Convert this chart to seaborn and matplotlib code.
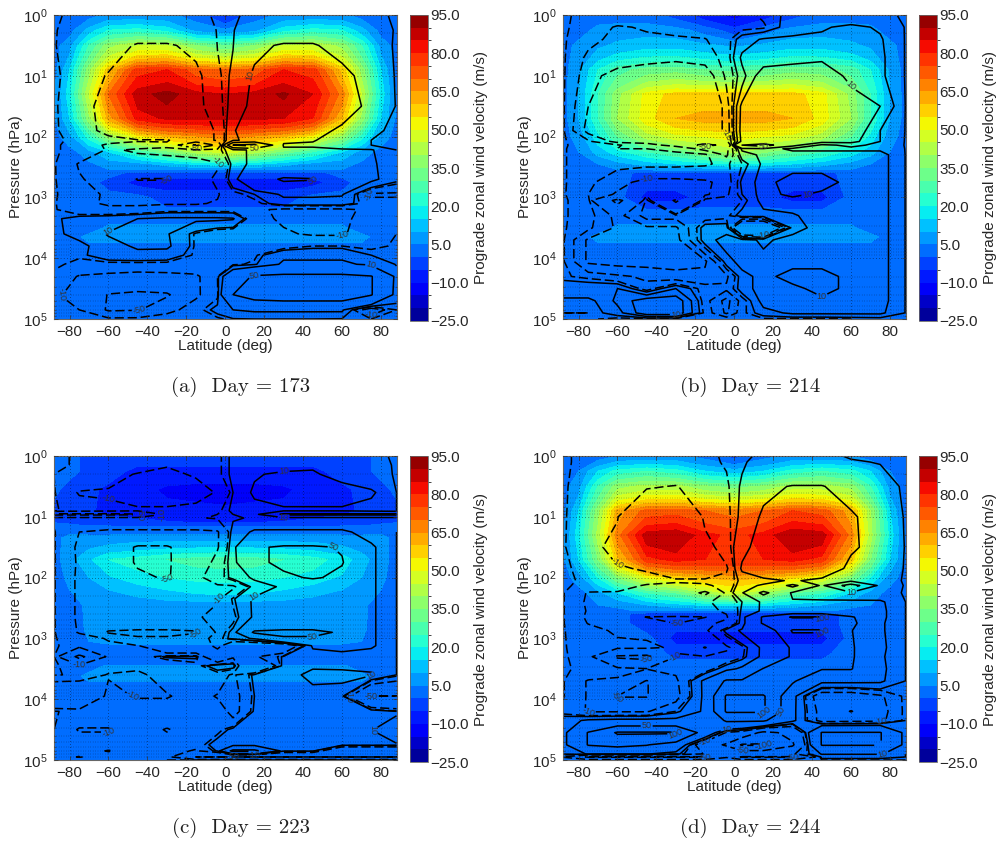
import numpy as np
import matplotlib
matplotlib.use("Agg")
import matplotlib.pyplot as plt
from matplotlib.colors import ListedColormap, BoundaryNorm
from matplotlib.ticker import LogLocator, NullFormatter, FuncFormatter
import seaborn as sns

# zonal wind, m/s
LAT_U = [-88, -80, -70, -60, -45, -30, -15, 0, 15, 30, 45, 60, 70, 80, 88]
LOGP_U = [0, .25, .5, .9, 1.3, 1.7, 2.0, 2.25, 2.45, 2.54, 2.6, 2.75, 3.0, 3.25, 3.5, 3.65, 3.85, 4.1, 5]
LOGP_UC = [0, .25, .55, .9, 1.05, 1.18, 1.35, 1.7, 2.0, 2.2, 2.45, 2.85, 3.05, 3.2, 3.4, 3.45, 3.62, 3.82, 5]

U_A = [
    [2, 2, 3, 6, 6, 6, 3, -7, 3, 6, 6, 6, 3, 2, 2],
    [2, 3, 12, 20, 22, 18, 8, 6, 8, 18, 22, 20, 12, 3, 2],
    [3, 8, 25, 38, 45, 45, 35, 30, 35, 45, 45, 38, 25, 8, 3],
    [3, 15, 38, 58, 78, 80, 72, 70, 72, 80, 78, 58, 38, 15, 3],
    [4, 18, 45, 70, 88, 92, 87, 85, 87, 91, 85, 68, 45, 18, 4],
    [4, 15, 38, 62, 82, 86, 86, 86, 86, 85, 80, 60, 38, 15, 4],
    [3, 8, 22, 38, 52, 60, 64, 68, 64, 60, 52, 38, 22, 8, 3],
    [2, 3, 8, 15, 25, 33, 42, 48, 42, 33, 25, 15, 8, 3, 2],
    [2, 2, 4, 7, 8, 12, 16, 18, 16, 12, 8, 7, 4, 2, 2],
    [2, 2, 2, 5, 6, 6, 6, 6, 6, 6, 6, 5, 2, 2, 2],
    [2, 2, 2, 2, -2, -2, -2, -2, -2, -2, -2, 2, 2, 2, 2],
    [2, 2, 2, -2, -7, -7, -7, -7, -7, -7, -7, -2, 2, 2, 2],
    [2, 2, 2, 2, 2, -3, -3, -3, -3, -3, 2, 2, 2, 2, 2],
    [2, 2, 2, 2, 2, 2, 2, 2, 2, 2, 2, 2, 2, 2, 2],
    [2, 2, 2, 6, 6, 6, 6, 6, 6, 6, 6, 6, 2, 2, 2],
    [2, 2, 7, 7, 7, 7, 7, 7, 7, 7, 7, 7, 7, 2, 2],
    [2, 2, 2, 2, 2, 2, 2, 2, 2, 2, 2, 2, 2, 2, 2],
    [2, 2, 2, 2, 2, 2, 2, 2, 2, 2, 2, 2, 2, 2, 2],
    [2, 2, 2, 2, 2, 2, 2, 2, 2, 2, 2, 2, 2, 2, 2],
]
U_B = [
    [2, 2, 2, 2, 2, -2, -8, -12, -8, -2, 2, 2, 2, 2, 2],
    [2, 2, 7, 8, 8, 7, 3, -3, 3, 7, 8, 8, 7, 2, 2],
    [2, 7, 9, 11, 13, 13, 11, 9, 11, 13, 13, 11, 9, 7, 2],
    [3, 9, 20, 28, 32, 33, 30, 28, 30, 33, 32, 28, 20, 9, 3],
    [3, 10, 25, 38, 52, 57, 57, 57, 57, 57, 52, 38, 25, 10, 3],
    [3, 10, 25, 40, 53, 60, 62, 62, 62, 60, 53, 40, 25, 10, 3],
    [3, 7, 18, 30, 42, 48, 50, 52, 50, 48, 42, 30, 18, 7, 3],
    [2, 5, 12, 18, 25, 30, 36, 42, 36, 30, 25, 18, 12, 5, 2],
    [2, 2, 5, 8, 12, 15, 18, 20, 18, 15, 12, 8, 5, 2, 2],
    [2, 2, 2, 5, 6, 7, 7, 7, 7, 7, 6, 5, 2, 2, 2],
    [2, 2, 2, 2, -2, -2, -2, -2, -2, -2, -2, 2, 2, 2, 2],
    [2, 2, 2, 2, -3, -3, -3, -3, -3, -3, -3, 2, 2, 2, 2],
    [2, 2, 2, 2, -7, -7, -3, -3, -3, -7, -7, 2, 2, 2, 2],
    [2, 2, 2, 2, 2, 2, 2, 2, 2, 2, 2, 2, 2, 2, 2],
    [2, 2, 2, 6, 6, 6, 6, 6, 6, 6, 6, 6, 2, 2, 2],
    [2, 2, 7, 7, 7, 7, 7, 7, 7, 7, 7, 7, 7, 2, 2],
    [2, 2, 2, 2, 2, 2, 2, 2, 2, 2, 2, 2, 2, 2, 2],
    [2, 2, 2, 2, 2, 2, 2, 2, 2, 2, 2, 2, 2, 2, 2],
    [2, 2, 2, 2, 2, 2, 2, 2, 2, 2, 2, 2, 2, 2, 2],
]
U_C = [
    [2, 2, -2, -2, -2, -2, -2, -2, -2, -2, -2, -2, -2, 2, 2],
    [2, 2, -2, -2, -7, -7, -7, -7, -7, -7, -7, -2, -2, 2, 2],
    [2, -3, -3, -7, -8, -11, -12, -12, -12, -11, -8, -7, -3, -3, 2],
    [-3, -3, -4, -7, -8, -8, -8, -9, -8, -8, -8, -7, -4, -3, -3],
    [-1, -2, -3, -3, -4, -6, -8, -8, -8, -6, -4, -3, -3, -2, -1],
    [2, 2, 1, 1, 1, 1, 1, 1, 1, 1, 1, 1, 1, 2, 2],
    [3, 7, 7, 7, 8, 8, 8, 8, 8, 8, 8, 7, 7, 7, 3],
    [3, 8, 14, 20, 22, 25, 27, 28, 27, 25, 22, 18, 12, 7, 3],
    [3, 6, 10, 14, 18, 20, 21, 21, 21, 20, 18, 14, 10, 6, 3],
    [2, 5, 7, 10, 12, 15, 17, 18, 17, 15, 12, 10, 7, 5, 2],
    [2, 3, 6, 6, 7, 7, 7, 7, 7, 7, 7, 6, 6, 3, 2],
    [2, 2, 6, 7, 7, 7, 7, 7, 7, 7, 7, 7, 6, 2, 2],
    [2, 2, 5, 6, 6, 6, 6, 6, 6, 6, 6, 6, 5, 2, 2],
    [2, 2, 2, 2, 2, 2, 2, 2, 2, 2, 2, 2, 2, 2, 2],
    [2, 2, 2, 2, 2, 2, 2, 2, 2, 2, 2, 2, 2, 2, 2],
    [2, 2, 2, 6, 6, 6, 6, 6, 6, 6, 6, 6, 2, 2, 2],
    [2, 2, 7, 7, 7, 7, 7, 7, 7, 7, 7, 7, 7, 2, 2],
    [2, 2, 2, 2, 2, 2, 2, 2, 2, 2, 2, 2, 2, 2, 2],
    [2, 2, 2, 2, 2, 2, 2, 2, 2, 2, 2, 2, 2, 2, 2],
]
U_D = [
    [2, 2, 2, 5, 6, 6, 3, -2, 3, 6, 6, 5, 2, 2, 2],
    [2, 5, 15, 22, 25, 22, 15, 12, 15, 22, 25, 22, 15, 5, 2],
    [3, 8, 25, 38, 42, 42, 36, 33, 36, 42, 42, 38, 25, 8, 3],
    [3, 15, 38, 62, 72, 73, 70, 68, 70, 75, 73, 62, 40, 15, 3],
    [4, 18, 42, 68, 88, 90, 82, 78, 82, 90, 88, 68, 42, 18, 4],
    [4, 15, 35, 58, 78, 82, 80, 80, 80, 82, 78, 58, 35, 15, 4],
    [3, 7, 20, 35, 50, 56, 60, 62, 60, 56, 50, 35, 20, 7, 3],
    [2, 3, 8, 15, 25, 30, 40, 48, 40, 30, 25, 15, 8, 3, 2],
    [2, 2, 5, 6, 10, 13, 16, 16, 16, 13, 10, 6, 5, 2, 2],
    [2, 2, 3, 4, 6, 6, 6, 6, 6, 6, 6, 4, 3, 2, 2],
    [2, 2, 2, 2, -3, -3, -3, -3, -3, -3, -3, 2, 2, 2, 2],
    [2, 2, 2, 2, -3, -3, -3, -3, -3, -3, -3, 2, 2, 2, 2],
    [2, 2, 2, 2, 2, -7, -7, -7, -7, -7, -7, 2, 2, 2, 2],
    [2, 2, 2, 2, 2, -1, -1, -1, -1, -1, -1, 2, 2, 2, 2],
    [2, 2, 2, 2, 2, 2, 2, 2, 2, 2, 2, 2, 2, 2, 2],
    [2, 2, 2, 2, 2, 2, 2, 2, 2, 2, 2, 2, 2, 2, 2],
    [2, 2, 2, 2, 2, 2, 2, 2, 2, 2, 2, 2, 2, 2, 2],
    [2, 2, 2, 2, 2, 2, 2, 2, 2, 2, 2, 2, 2, 2, 2],
    [2, 2, 2, 2, 2, 2, 2, 2, 2, 2, 2, 2, 2, 2, 2],
]

# overlaid line field, estimated from where its contours run
LAT_W = [-88, -75, -60, -45, -30, -15, -4, 4, 15, 30, 45, 60, 75, 88]
LOGP_WA = [0, .25, .5, 1, 1.5, 1.9, 2.06, 2.14, 2.22, 2.45, 2.7, 2.95, 3.1, 3.2, 3.35, 3.6, 3.8, 3.95, 4.1, 4.3, 4.6, 4.85, 5]
LOGP_WB = [0, .2, .4, .7, 1, 1.5, 1.9, 2.08, 2.14, 2.2, 2.3, 2.45, 2.75, 2.95, 3.05, 3.3, 3.5, 3.7, 4.05, 4.3, 4.5, 4.7, 4.9, 5]
LOGP_WC = [0, .15, .3, .6, .9, .96, 1.02, 1.25, 1.5, 1.75, 2.0, 2.15, 2.35, 2.65, 2.9, 3.0, 3.12, 3.3, 3.45, 3.6, 3.95, 4.2, 4.5, 4.75, 4.85, 4.95, 5]
LOGP_WD = [0, .1, .5, 1, 1.5, 1.85, 2.05, 2.13, 2.25, 2.4, 2.55, 2.65, 2.75, 2.87, 3.15, 3.3, 3.5, 3.7, 3.95, 4.2, 4.35, 4.55, 4.75, 4.9, 4.95, 5]

W_A = [
    [-.5, -2, -2, -2, -2, -2, -.5, .5, 2, 2, 2, 2, 2, .5],
    [-.7, -3, -4, -5, -5, -4, -.8, .8, 4, 5, 5, 5, 3, .7],
    [-.8, -3, -6, -11, -11, -8, -.9, .9, 8, 11, 11, 6, 3, .6],
    [-.3, -3, -11, -30, -35, -13, -2, 2, 12, 35, 30, 15, 3, .8],
    [-.3, -5, -15, -35, -40, -14, -3, 3, 14, 40, 35, 20, 5, .8],
    [-.3, -4, -14, -25, -25, -20, -8, 8, 25, 30, 20, 5, 1.5, .5],
    [-.3, -2, -6, -9, -9, -20, -8, 8, 15, 14, 11, 3, 1, .5],
    [-.3, -3, -12, -13, -12, -110, -40, 100, 120, 8, 8, 3, 1, .5],
    [-.3, -3, -11, -9, -8, -6, -3, 5, 13, 13, 13, 12, 11, 1],
    [-.3, -11, -14, -14, -14, -14, -11, 3, 14, 14, 14, 14, 12, 3],
    [-.3, -9, -15, -52, -52, -15, -8, 5, 30, 55, 52, 14, 13, 3],
    [-.3, -5, -12, -14, -13, -11, -11, -3, 1, 12, 12, 11, -12, -12],
    [-.3, -8, -11, -11, -11, -11, -9, -9, -3, 5, 5, 5, -5, -5],
    [-.3, -6, -8, -8, -4, -4, -4, -4, -8, -12, -12, -12, -8, -3],
    [-.3, 4, 6, 10, 12, 12, 12, 11, -8, -11, -11, -11, -8, -2],
    [-.3, 3, 11, 12, 11, -2, -8, -9, -9, -9, -11, -11, -5, -1],
    [-.3, -1, 5, 12, 12, -2, -5, -5, -5, -4, -1, -1, -2, -.5],
    [-.3, -.5, 5, 6, 5, -2, -3, -2, -2, 8, 8, 8, 1, -.5],
    [-.3, -2, -3, -3, -3, -3, -3, -2, 0, 12, 12, 12, 8, .5],
    [-2, -11, -13, -15, -14, -12, -1, 30, 55, 60, 60, 60, 52, 5],
    [-8, -15, -52, -60, -55, -12, -2, 50, 65, 70, 70, 70, 52, 3],
    [-3, -10, -55, -52, -15, -3, 3, 10, 12, 12, 12, 12, -20, -1],
    [-1, -2, -3, -2, -2, -2, -2, .5, 1, 1, 1, .5, -1, .5],
]
W_B = [
    [-.5, -2, -2, -2, -2, -2, -2, -2, -.5, 2, 2, 2, 2, .5],
    [-.5, -2.5, -5.5, -4.5, -4, -3, -2, -2, -1.5, 3, 4.5, 6, 4.5, .8],
    [-.5, -4, -6, -6, -5.5, -5.2, -2.5, 3, 5.5, 6, 6, 6, 5.5, .8],
    [-.5, -6, -7, -8, -9, -8, -3, 6, 7, 8, 9, 8, 6, .8],
    [-.5, -7.5, -13, -15, -15, -14, -4, 3, 14, 15, 15, 8, 6, .8],
    [-.5, -10, -15, -20, -20, -18, -8, 12, 18, 20, 20, 18, 10, .9],
    [-.5, -12, -14, -15, -15, -14, -9, 13, 15, 15, 15, 15, 5, .9],
    [-.5, -4, -12, -12, -12, -12, -12, 12, 12, 12, 12, 12, 5, .8],
    [-.5, -3, -4.5, -8, -12, -70, -30, 50, 70, 12, 4, 6, 4, .8],
    [-.5, -4, -5, -5, -6, -12, -12, 6, 7, 4, 4, 4, 4, .9],
    [-.5, -4, -4, -4, -4, -4, -11, 3, 6, 7, 7, 7, 7, .9],
    [-.5, -4, -4, -4, -4, -4.5, -6, -1, 6, 7, 7, 7, 7, .9],
    [-.5, -4, -8, -12, -12, -11, -8, 2, 7, 14, 14, 7, 7, .9],
    [-.5, -5, -11, -12, -12, -11, -6, 1, 7, 12, 8, 7, 7, .9],
    [-.5, -3, -60, -3, -55, -3, -3, -1, 7, 7, 7, 7, 7, .9],
    [-.5, -3, -12, -3, -3, -3, -2, 3, 3, 4.5, 7, 7, 7, .9],
    [-.5, -4, -11, -11, -11, 3, 3, -30, -30, 3, 7, 7, 7, .9],
    [-.5, -11, -12, -12, -12, 3, 7, 7, 4, 7, 7, 7, 7, .9],
    [-.5, -11, -12, -12, -12, -11, 3, 7, 7, 7, 7, 7, 7, .9],
    [-.5, -2, -4, -6, -8, -8, -6, 3, 7, 14, 14, 7, 7, .9],
    [5, 5, 5, -3, 5, -3, -4, 3, 7, 7, 14, 7, 7, .9],
    [-.5, -.5, 6, 14, 14, -3, -12, -3, 7, 7, 7, 7, 7, .9],
    [-1, -1, 3, 14, 14, -2, -11, -2, 3, 6, 6, 6, 6, .9],
    [-.5, -.5, -2, -2, -2, -2, -2, -2, -1.5, -1.5, -1.5, -1, -.5, .5],
]
W_C = [
    [.5, -2, -2, -2, -2, -2, -2, 2, 2, 2, 2, 2, 2, .5],
    [.5, -2, -3, -4, -9.5, -5, -2, 2, 4, 6, 9, 6, 3, .5],
    [-1, -1, -5, -11, -12, -9, -2, 2, 9, 12, 11, 7, 3, .6],
    [-.5, -11, -12, -15, -15, -15, -9, 1, 12, 15, 15, 15, 12, 1],
    [-.5, -3, -5, -8, -8, -5, -2, 2, 5, 8, 8, 8, 4, 1],
    [-60, -60, -60, -55, -2, -1, -1, 1, 2, 60, 60, 60, 60, 60],
    [-2, -2, -2, -2, -1.5, -1.5, -.5, .5, 1.5, 2, 2, 2, 2, 2],
    [-.5, -10, -12, -12, -12, -12, -11, 3, 12, 12, 12, 12, 6, 1],
    [-.5, -12, -20, -55, -55, -20, -11, 5, 45, 55, 55, 48, 12, 1],
    [-.5, -11.5, -20, -55, -55, -22, -5, 4, 40, 60, 60, 52, 12, 1],
    [-.5, -12, -13, -40, -55, -13, -4, 3, 12, 40, 55, 40, 12, 1],
    [-.5, -12, -12, -12, -12, -12, -12, -12, 4, 12, 12, 12, 12, 1],
    [-.5, -12, -12, -12, -12, -12, -11, 0, 12, 12, 12, 12, 12, 1],
    [-.5, -12, -12, -12, -12, -12, -5, -3, 12, 12, 12, 12, 12, 1],
    [-.5, -11, -55, -60, -60, -55, -5, 3, 55, 60, 60, 45, 12, 1],
    [-.5, -5, -11, -45, -45, -20, -3, 3, 12, 45, 45, 13, 12, 1],
    [-.5, -3, -8, -9, -30, -30, -3, -30, -30, -30, 12, 12, 12, 1],
    [-1, -60, -5, -5, 2, 2, -30, -12, -12, 2, 4, 8, 3, 1],
    [-.5, -3, -5, -8, -8, -3, 5, 5, -50, 5, 8, 8, 8, 1],
    [-.5, -2, -11, -12, -6, -4, -4, -12, 3, 4, 14, 13, 11, 1],
    [-40, -40, -5, -11, -11, -5, -11, -15, 1, 3, 3, 3, -50, -50],
    [-.5, -3, -3, -2, -2, -3, -2, -15, 2, 3, 3, 3, 8, 1],
    [-1, -11, -11, -3, -11, -3, -3, 3, 3, 3, 3, 3, 8, 50],
    [-1, -3, -3, -3, -3, -5, 5, 4, 4, 4, 4, 4, 4, 4],
    [-1, -3, -11, -3, -3, -12, 2, 60, 60, 3, 3, -40, -40, -40],
    [-2, -11, -3, -3, -3, -50, -50, -50, -50, -50, -50, -50, -50, -50],
    [-1, -1, -1, -1, -1, -.5, -.5, -.5, -.5, -.5, -.5, -.5, -.5, -.5],
]
W_D = [
    [-.5, -2, -2, -2, -2, -1.5, -.7, .5, 1.5, 1.5, 1.5, .8, .5, .5],
    [-.5, -2, -2, -2, -2, -1.5, -.8, .7, 2, 2, 2, 1.2, .9, .5],
    [-.5, -3, -5, -9, -10.5, -5, -1.5, 1.5, 8, 10.5, 10.5, 6, 2.5, .5],
    [-.5, -4, -9.5, -30, -30, -8, -2, 2, 12, 30, 30, 12, 3, .8],
    [-.5, -5, -15, -35, -40, -15, -4, 7, 15, 40, 35, 12, 5, .8],
    [-.5, -2, -8, -12, -25, -25, -12, 12, 25, 25, 25, 5, 3, .8],
    [-.5, -1.5, -2, -3, -7, -7, -5, 3, 5, 12, 5, 3, 2, .8],
    [-.5, -2, -1.5, -12, -15, -12, -6, 5, 12, 60, 5, 70, 3, .8],
    [-.5, -11, -12, -12, -12, -60, -4, 8, 60, 6, 4, 3, 2, .8],
    [-.5, -12, -12, -12, -12, -12, -5, 1, 12, 12, 12, 12, 12, 1],
    [-.5, -11, -12, -12, -12, -12, -9, 2, 12, 12, 12, 12, 13, 1],
    [-.5, -12, -12, -52, -55, -52, -11, 3, 55, 105, 105, 55, 13, 1],
    [-.5, -10.5, -12, -12, -52, -12, -8, 3, 55, 60, 60, 60, 12, 1],
    [-.5, -6, -12, -14, -12, -12, 3, 12, 12, 105, 105, 52, 12, 1],
    [-.5, -4, -6, -6, -13, -52, -12, -3, 13, 55, 55, 55, 13, 1],
    [-.5, -3, -55, -60, -8, -8, -6, -2, 13, 55, 55, 55, 12, 1],
    [-.5, -2, -4, -9, -8, -5, 5, 13, 52, 52, 52, 52, 13, 1],
    [-.5, -11, -13, -52, -12, 13, 55, 55, 55, 55, 13, 13, 12, 1],
    [-.5, -11, -52, -52, -14, 13, 105, 105, 105, 14, -20, -20, -12, 1],
    [-3, -11, -11, -11, -1, 12, 105, 105, 105, 13, -15, -52, -15, 1],
    [5, 12, 14, 14, 14, 14, 55, 55, 55, 13, -15, -14, -13, 1],
    [3, 52, 105, 105, 105, 30, -12, -20, -60, -40, 52, 52, 52, 3],
    [3, 52, 60, 52, 30, -30, -55, -105, -105, -55, 52, 52, 52, 3],
    [2, 11, 11, 11, 3, -11, -12, -12, -12, -12, 11, 11, 11, 1],
    [-11, -55, -55, -55, -55, -55, -12, -55, -55, -55, 3, 3, 3, 1],
    [-1, -1, -1, -1, -1, -1, -1, -1, -1, -1, -1, -1, -1, -1],
]

CAPTIONS = ["(a)  Day = 173", "(b)  Day = 214", "(c)  Day = 223", "(d)  Day = 244"]
LEVELS_LINE = [-100, -50, -10, -1, 1, 10, 50, 100]
LEVELS_LINE_B = [-100, -50, -10, -5, -1, 1, 5, 10, 50, 100]
LABEL_LEVELS = [-100, -50, -10, 10, 50, 100]
BAR_TICKS = [-25, -10, 5, 20, 35, 50, 65, 80, 95]
LAT_TICKS = [-80, -60, -40, -20, 0, 20, 40, 60, 80]

sns.set_style("ticks")
plt.rcParams["font.family"] = ["Liberation Sans", "DejaVu Sans"]
plt.rcParams["mathtext.fontset"] = "custom"
plt.rcParams["mathtext.rm"] = "Liberation Sans"
plt.rcParams["mathtext.default"] = "regular"
plt.rcParams["contour.negative_linestyle"] = (0, (6, 2.5))
plt.rcParams["axes.unicode_minus"] = True

W, H = 997, 846
levels = np.arange(-25, 100, 5)
# 24 bands taken at their centres so the ends reach jet's dark blue and dark red
cmap = ListedColormap(sns.mpl_palette("jet", 240)[5::10])
norm = BoundaryNorm(levels, cmap.N)
fig = plt.figure(figsize=(W / 100, H / 100), dpi=100)


def box(x0, y0, x1, y1):
    return [x0 / W, 1 - y1 / H, (x1 - x0) / W, (y1 - y0) / H]


def thin_labels(ax, cs):
    # hide contour labels that would sit on top of another one
    kept = []
    renderer = fig.canvas.get_renderer()
    for t in cs.labelTexts:
        bb = t.get_window_extent(renderer)
        if any(bb.overlaps(k) for k in kept):
            t.set_visible(False)
        else:
            kept.append(bb)


def panel(x0, y0, logp_u, u, logp_w, w, line_levels, caption):
    ax = fig.add_axes(box(x0, y0, x0 + 342.5, y0 + 304))
    cf = ax.contourf(LAT_U, 10.0 ** np.array(logp_u), np.array(u, float), levels=levels, cmap=cmap, norm=norm)
    cs = ax.contour(LAT_W, 10.0 ** np.array(logp_w), np.array(w, float), levels=line_levels, colors="k", linewidths=1.1)
    ax.set_yscale("log")
    ax.set_xlim(-88, 88)
    ax.set_ylim(1e5, 1)
    ax.clabel(cs, levels=LABEL_LEVELS, fmt="%d", fontsize=6.5, colors="#333333", inline=True, inline_spacing=1)
    thin_labels(ax, cs)
    ax.set_xticks(LAT_TICKS)
    ax.yaxis.set_major_locator(LogLocator(base=10, numticks=7))
    ax.yaxis.set_minor_locator(LogLocator(base=10, subs=range(2, 10), numticks=20))
    ax.yaxis.set_minor_formatter(NullFormatter())
    ax.tick_params(which="major", direction="in", length=3, width=.5, labelsize=11, pad=4.5, color="#333333", top=True, right=True)
    ax.tick_params(which="minor", direction="in", length=1.5, width=.4, color="#333333", right=True)
    ax.grid(True, which="major", color="k", ls=(0, (1, 4)), lw=.45)
    ax.grid(True, which="minor", axis="y", color="k", ls=(0, (1, 4)), lw=.35)
    ax.set_axisbelow(False)
    ax.set_xlabel("Latitude (deg)", fontsize=11, labelpad=0)
    ax.set_ylabel("Pressure (hPa)", fontsize=11, labelpad=0)
    for s in ax.spines.values():
        s.set_color("#666666")
        s.set_linewidth(.8)

    cax = fig.add_axes(box(x0 + 355.5, y0, x0 + 373.5, y0 + 306))
    fmt = FuncFormatter(lambda v, pos: f"{v:.1f}".replace("-", "\u2212"))
    cb = fig.colorbar(cf, cax=cax, ticks=BAR_TICKS, format=fmt, spacing="proportional")
    cb.ax.tick_params(length=0, labelsize=11, pad=2)
    cb.set_label("Prograde zonal wind velocity (m/s)", fontsize=11, labelpad=4)
    cb.outline.set_edgecolor("#666666")
    cb.outline.set_linewidth(.6)

    fig.text((x0 + 187) / W, 1 - (y0 + 372) / H, caption, family="cmr10", fontsize=15,
             color="#222222", ha="center", va="center")


panel(54, 15, LOGP_U, U_A, LOGP_WA, W_A, LEVELS_LINE, CAPTIONS[0])
panel(563, 15, LOGP_U, U_B, LOGP_WB, W_B, LEVELS_LINE_B, CAPTIONS[1])
panel(54, 456, LOGP_UC, U_C, LOGP_WC, W_C, LEVELS_LINE, CAPTIONS[2])
panel(563, 456, LOGP_U, U_D, LOGP_WD, W_D, LEVELS_LINE, CAPTIONS[3])

fig.savefig("out.png", dpi=100)
